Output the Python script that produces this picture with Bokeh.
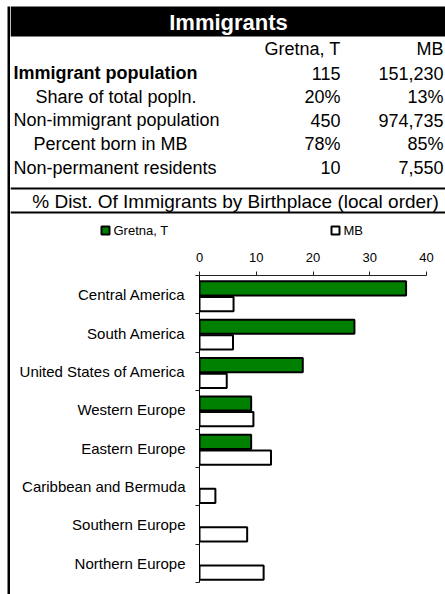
from bokeh.plotting import figure
from bokeh.models import Range1d, FixedTicker, LinearAxis, ColumnDataSource
from bokeh.layouts import row, column
from bokeh.core.properties import value
from bokeh.embed import file_html
from bokeh.resources import INLINE

# ---------------- data ----------------
title_text = "Immigrants"
col_headers = ["Gretna, T", "MB"]
row_labels = ["Immigrant population", "Share of total popln.", "Non-immigrant population",
              "Percent born in MB", "Non-permanent residents"]
gretna_stats = [115, 20, 450, 78, 10]
mb_stats = [151230, 13, 974735, 85, 7550]
stat_is_pct = [False, True, False, True, False]
subtitle = "% Dist. Of Immigrants by Birthplace (local order)"

categories = ["Central America", "South America", "United States of America", "Western Europe",
              "Eastern Europe", "Caribbean and Bermuda", "Southern Europe", "Northern Europe"]
gretna_pct = [36.4, 27.3, 18.2, 9.1, 9.1, 0.0, 0.0, 0.0]
mb_pct = [6.0, 5.9, 4.8, 9.5, 12.6, 2.8, 8.4, 11.3]
x_ticks = [0, 10, 20, 30, 40]
series_names = ["Gretna, T", "MB"]

FONT_NAME = "Liberation Sans"
FONT = value(FONT_NAME)
GREEN = "#008000"
SERIES_FILL = [GREEN, "white"]

def fmt(v, pct):
    return f"{v}%" if pct else f"{v:,}"

PAGE_H = 594

# ---------------- left border strip (page x 0..10) ----------------
p_line = figure(width=10, height=PAGE_H, x_range=Range1d(0, 10), y_range=Range1d(PAGE_H, 0),
                x_axis_location=None, y_axis_location=None, min_border=0,
                toolbar_location=None, output_backend="svg", outline_line_color=None)
p_line.quad(left=[7], right=[10], top=[6], bottom=[PAGE_H], fill_color="black", line_color=None)
p_line.grid.visible = False
p_line.frame_align = False

# ---------------- table (page x 10..445, y 0..245) ----------------
TW, TH = 435, 245
p_t = figure(width=TW, height=TH, x_range=Range1d(0, TW), y_range=Range1d(TH, 0),
             x_axis_location=None, y_axis_location=None, min_border=0,
             toolbar_location=None, output_backend="svg", outline_line_color=None)
p_t.grid.visible = False
p_t.frame_align = False

# header bar
p_t.quad(left=[0], right=[TW], top=[6], bottom=[36], fill_color="black", line_color=None)
p_t.text(x=[218], y=[21.5], text=[title_text], text_align="center", text_baseline="middle",
         text_font=FONT, text_font_size="22px", text_font_style="bold", text_color="white")

# column headers
col_x = [330, 433]
p_t.text(x=col_x, y=[48.5, 48.5], text=col_headers, text_align="right", text_baseline="middle",
         text_font=FONT, text_font_size="18px", text_color="black")

row_y = [72.5, 96.0, 119.6, 143.3, 167.0]
row_x = [3, 25, 3, 23, 3]
row_bold = [True, False, False, False, False]
for lbl, xx, yy, b, g, m, pct in zip(row_labels, row_x, row_y, row_bold, gretna_stats, mb_stats, stat_is_pct):
    p_t.text(x=[xx], y=[yy], text=[lbl], text_align="left", text_baseline="middle",
             text_font=FONT, text_font_size="18px", text_color="black",
             text_font_style="bold" if b else "normal")
    p_t.text(x=col_x, y=[yy, yy], text=[fmt(g, pct), fmt(m, pct)], text_align="right",
             text_baseline="middle", text_font=FONT, text_font_size="18px", text_color="black")

# separators and subtitle
p_t.segment(x0=[0, 0], x1=[TW, TW], y0=[188, 212], y1=[188, 212], line_color="black", line_width=2)
p_t.text(x=[225], y=[200.5], text=[subtitle], text_align="center", text_baseline="middle",
         text_font=FONT, text_font_size="19px", text_color="black")

# legend
leg_x = [95, 325]
p_t.rect(x=leg_x, y=[230, 230], width=8, height=8, fill_color=SERIES_FILL,
         line_color="black", line_width=2)
p_t.text(x=[x + 8 for x in leg_x], y=[230, 230], text=series_names, text_align="left",
         text_baseline="middle", text_font=FONT, text_font_size="13px", text_color="black")

# ---------------- bar chart (page x 10..445, y 245..594) ----------------
n = len(categories)
p = figure(width=TW, height=PAGE_H - TH, x_range=Range1d(0, 40), y_range=Range1d(n, 0),
           x_axis_location=None, y_axis_location=None,
           min_border_left=189, min_border_right=19, min_border_top=30, min_border_bottom=12,
           toolbar_location=None, output_backend="svg", outline_line_color=None)
p.grid.visible = False
p.frame_align = False

centers = [i + 0.5 for i in range(n)]
bounds = [i for i in range(n + 1)]

src_g = ColumnDataSource(dict(y=[i + 0.335 for i in range(n)], right=gretna_pct,
                              la=[1.0 if v > 0 else 0.0 for v in gretna_pct]))
src_m = ColumnDataSource(dict(y=[i + 0.745 for i in range(n)], right=mb_pct))
p.hbar(y="y", right="right", left=0, height=0.37, source=src_g,
       fill_color=GREEN, line_color="black", line_width=2, line_alpha="la")
p.hbar(y="y", right="right", left=0, height=0.37, source=src_m,
       fill_color="white", line_color="black", line_width=2)

xaxis = LinearAxis(ticker=FixedTicker(ticks=x_ticks, minor_ticks=[]),
                   major_tick_out=4, major_tick_in=0, minor_tick_out=0, minor_tick_in=0,
                   major_label_standoff=10, axis_line_color="#222222", major_tick_line_color="#222222",
                   major_label_text_font=FONT_NAME, major_label_text_font_size="13px",
                   major_label_text_color="black")
p.add_layout(xaxis, "above")

yaxis = LinearAxis(ticker=FixedTicker(ticks=centers, minor_ticks=bounds),
                   major_label_overrides={c: name for c, name in zip(centers, categories)},
                   major_tick_out=0, major_tick_in=0, major_tick_line_color=None,
                   minor_tick_out=4, minor_tick_in=0, minor_tick_line_color="#222222",
                   axis_line_color="black", major_label_standoff=10,
                   major_label_text_font=FONT_NAME, major_label_text_font_size="15px",
                   major_label_text_color="black")
p.add_layout(yaxis, "left")

layout = row(p_line, column(p_t, p))
open("out.html", "w").write(file_html(layout, INLINE))
